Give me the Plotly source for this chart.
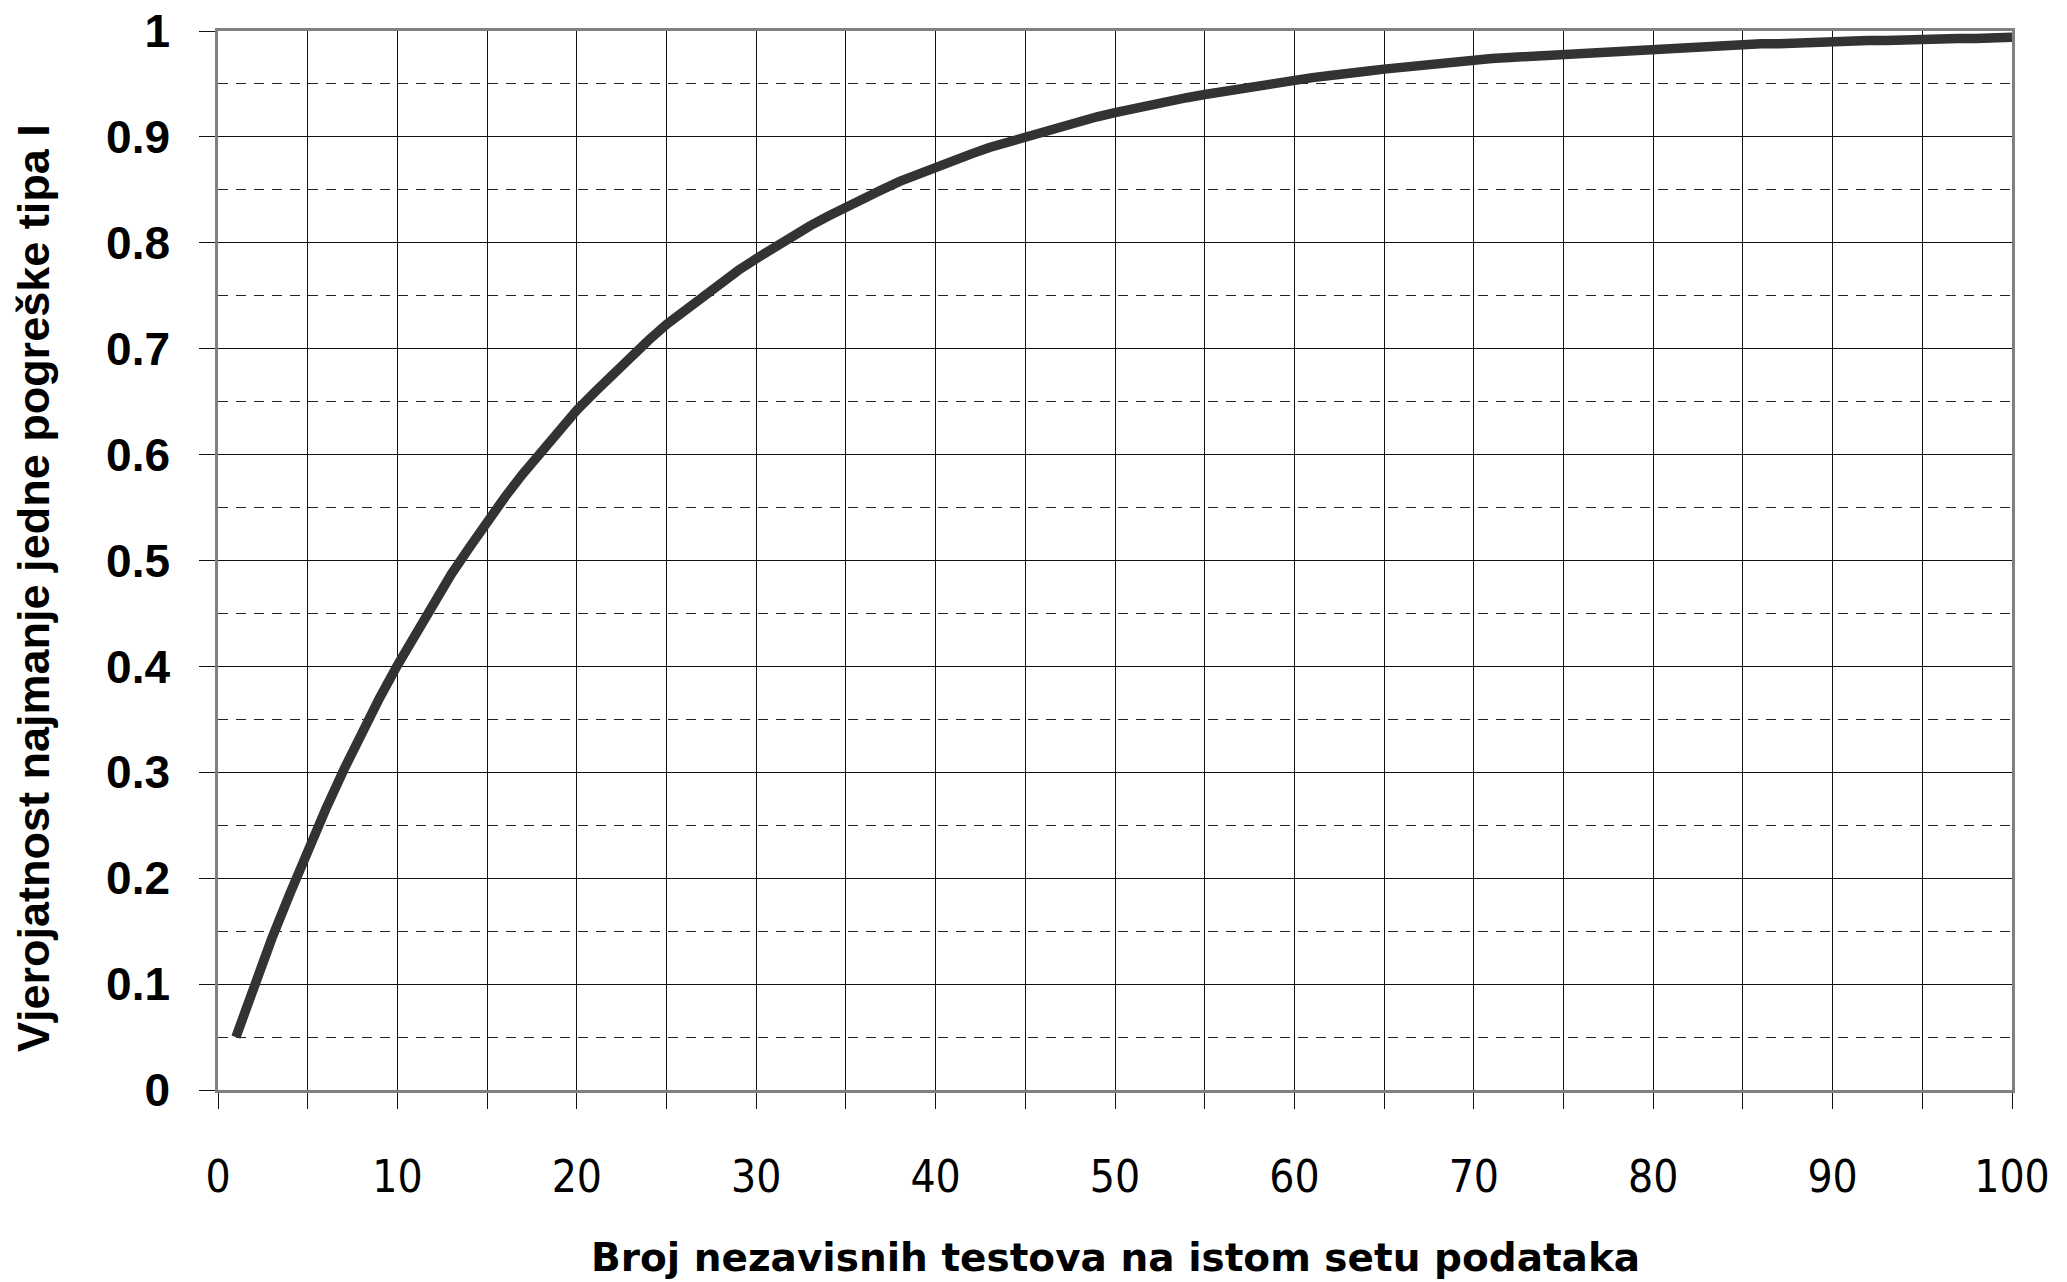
import plotly.graph_objects as go

# Number of independent tests on the same data set
tests = list(range(1, 101))

# Probability of at least one type I error
prob = [
    0.050, 0.098, 0.143, 0.185, 0.226, 0.265, 0.302, 0.337, 0.370, 0.401,
    0.431, 0.460, 0.487, 0.512, 0.537, 0.560, 0.582, 0.603, 0.623, 0.642,
    0.659, 0.676, 0.693, 0.708, 0.723, 0.736, 0.750, 0.762, 0.774, 0.785,
    0.796, 0.806, 0.816, 0.825, 0.834, 0.842, 0.850, 0.858, 0.865, 0.871,
    0.878, 0.884, 0.890, 0.895, 0.901, 0.906, 0.910, 0.915, 0.919, 0.923,
    0.927, 0.931, 0.934, 0.937, 0.940, 0.943, 0.946, 0.949, 0.952, 0.954,
    0.956, 0.958, 0.961, 0.962, 0.964, 0.966, 0.968, 0.969, 0.971, 0.972,
    0.974, 0.975, 0.976, 0.978, 0.979, 0.980, 0.981, 0.982, 0.983, 0.983,
    0.984, 0.985, 0.986, 0.986, 0.987, 0.988, 0.988, 0.989, 0.990, 0.990,
    0.991, 0.991, 0.991, 0.992, 0.992, 0.993, 0.993, 0.993, 0.994, 0.994,
]

y_tickvals = [0, 0.1, 0.2, 0.3, 0.4, 0.5, 0.6, 0.7, 0.8, 0.9, 1]
y_ticktext = ["0", "0.1", "0.2", "0.3", "0.4", "0.5", "0.6", "0.7", "0.8", "0.9", "1"]

x_title = "Broj nezavisnih testova na istom setu podataka"
y_title = "Vjerojatnost najmanje jedne pogreške tipa I"

W, H = 2067, 1282
L, R, T, B = 218, 55, 31, 192
plot_w = W - L - R
plot_h = H - T - B

fig = go.Figure()
fig.add_trace(go.Scatter(
    x=tests, y=prob, mode="lines",
    line=dict(color="#333333", width=9.5, shape="linear"),
    showlegend=False, hoverinfo="x+y",
))

fig.update_layout(
    width=W, height=H,
    margin=dict(l=L, r=R, t=T, b=B, pad=0, autoexpand=False),
    paper_bgcolor="white", plot_bgcolor="white",
    showlegend=False,
)

grid_col = "#111111"
fig.update_xaxes(
    range=[0, 100], dtick=10, tick0=0, automargin=False,
    showgrid=True, gridcolor=grid_col, gridwidth=1.3,
    ticks="outside", ticklen=16, tickwidth=1.3, tickcolor=grid_col,
    minor=dict(dtick=5, tick0=0, showgrid=True, gridcolor=grid_col, gridwidth=1.3,
               ticks="outside", ticklen=16, tickwidth=1.3, tickcolor=grid_col),
    showline=True, linecolor="#808080", linewidth=2.5, mirror=True,
    tickfont=dict(family="DejaVu Sans Condensed, Liberation Sans Narrow, sans-serif",
                  size=44, color="black"),
    ticklabelstandoff=30,
    zeroline=False,
)
fig.update_yaxes(
    range=[0, 1], automargin=False,
    tickmode="array", tickvals=y_tickvals, ticktext=y_ticktext,
    showgrid=True, gridcolor=grid_col, gridwidth=1.3,
    ticks="outside", ticklen=16, tickwidth=1.3, tickcolor=grid_col,
    minor=dict(dtick=0.05, tick0=0, showgrid=True, gridcolor="#222222", gridwidth=1.2,
               griddash="10px,8px", ticks=""),
    showline=True, linecolor="#808080", linewidth=2.5, mirror=True,
    tickfont=dict(family="Liberation Sans, Arial, sans-serif", size=46, color="black",
                  weight="bold"),
    ticklabelstandoff=20,
    zeroline=False,
)

fig.add_annotation(
    text=x_title, xref="paper", yref="paper",
    x=0.5, y=-(1257 - (T + plot_h)) / plot_h,
    xanchor="center", yanchor="middle", showarrow=False,
    font=dict(family="DejaVu Sans, sans-serif", size=39, color="black", weight="bold"),
)
fig.add_annotation(
    text=y_title, xref="paper", yref="paper",
    x=-(L - 33) / plot_w, y=(T + plot_h - 588) / plot_h,
    xanchor="center", yanchor="middle", textangle=-90, showarrow=False,
    font=dict(family="Liberation Sans, Arial, sans-serif", size=45, color="black", weight="bold"),
)

fig.write_html(
    "out.html",
    config={"displayModeBar": False},
    post_script="document.body.style.margin='0';document.body.style.overflow='hidden';",
)
